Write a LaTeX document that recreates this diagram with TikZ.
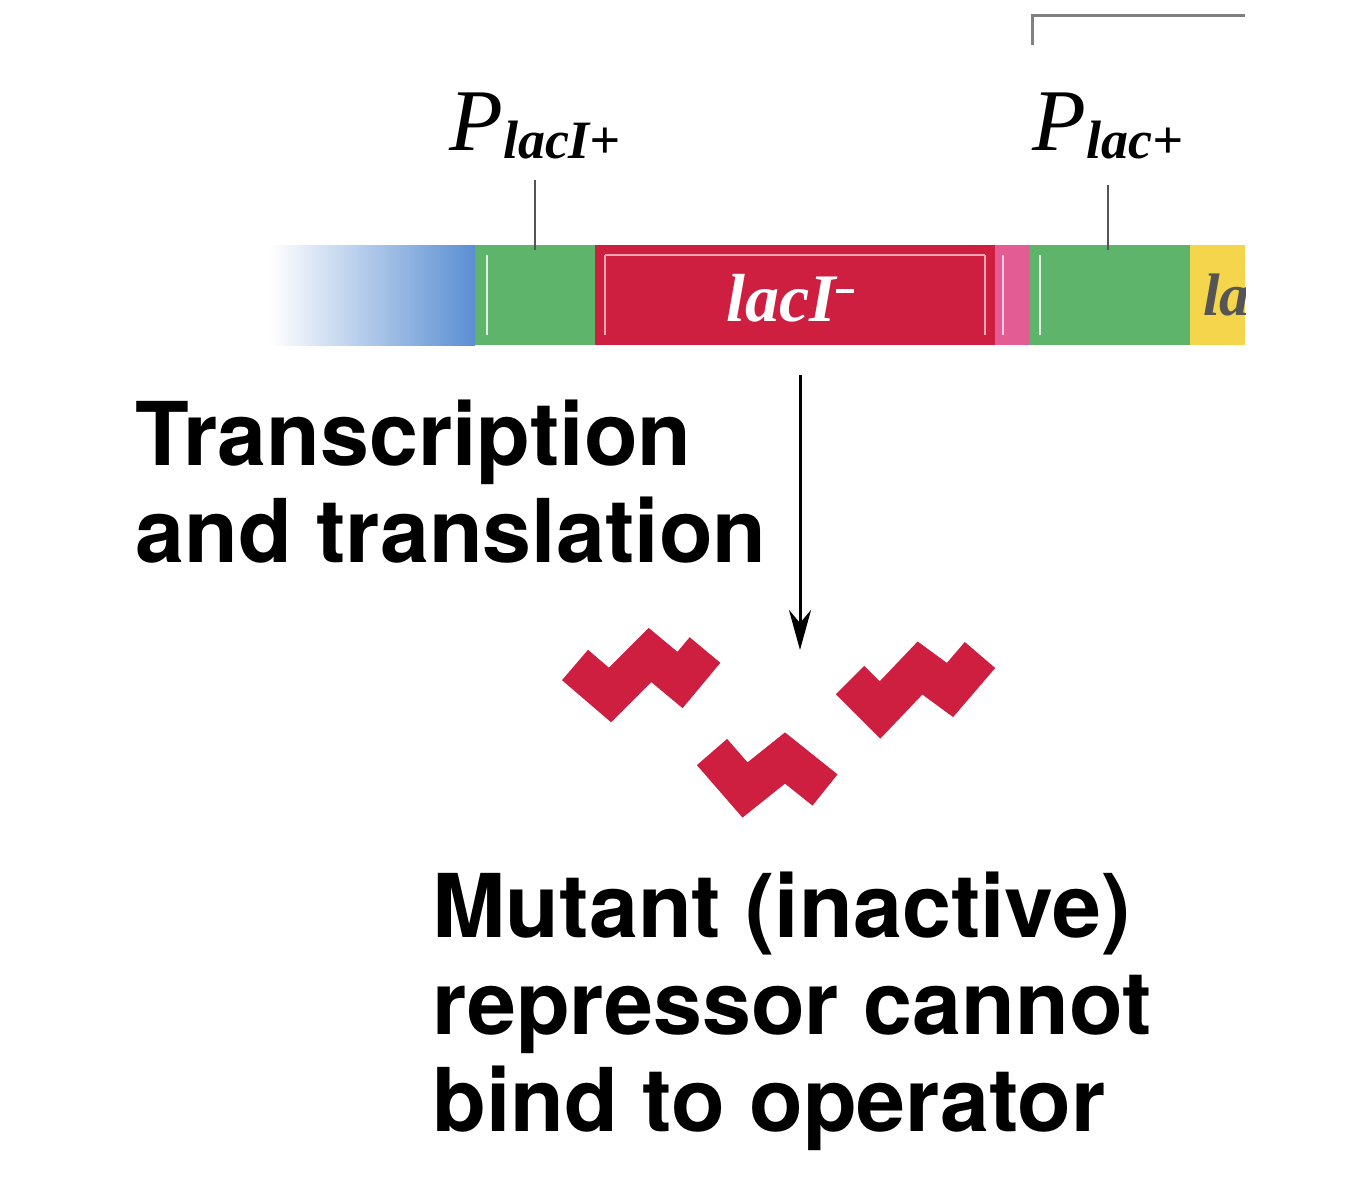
\documentclass[tikz,border=0pt]{standalone}
\usepackage{fontspec}
\usetikzlibrary{arrows.meta}
\setsansfont{TeX Gyre Heros}
\setmainfont{Liberation Serif}
\definecolor{gred}{HTML}{CF1F40}
\definecolor{ggreen}{HTML}{5DB46A}
\definecolor{gpink}{HTML}{E45C94}
\definecolor{gyellow}{HTML}{F4D54C}
\definecolor{gblue}{HTML}{5A8ED2}
\definecolor{ggray}{HTML}{555555}
\begin{document}
\begin{tikzpicture}[x=0.5pt,y=-0.5pt,
  lbl/.style={font=\sffamily\bfseries\fontsize{44}{48.5}\selectfont,align=left,inner sep=0},
  prom/.style={font=\rmfamily\itshape\fontsize{30}{32}\selectfont,inner sep=0},
  tick/.style={draw=ggray,line width=1.2pt},
  prot/.style={draw=gred,line width=20pt,line join=miter,miter limit=3}]
\useasboundingbox (0,0) rectangle (1351,1200);
\fill[white] (0,0) rectangle (1351,1200);
% bracket
\draw[draw=gray,line width=1.5pt] (1032,45) coordinate (bl) -- (1032,15) -- (1245,15) coordinate (br);
% DNA
\shade[left color=white,right color=gblue] (270,245) rectangle (475,345);
\fill[ggreen] (475,245) rectangle (595,345);
\draw[white!80!ggreen,line width=1pt] (487,255) -- (487,335);
\fill[gred] (595,245) rectangle (995,345);
\draw[white!60!gred,line width=1pt] (605,255) -- (605,335) (605,255) -- (985,255) (985,255) -- (985,335);
\fill[gpink] (995,245) rectangle (1030,345);
\draw[white!70!gpink,line width=1pt] (1003,255) -- (1003,335);
\fill[ggreen] (1030,245) rectangle (1190,345);
\draw[white!80!ggreen,line width=1pt] (1040,255) -- (1040,335);
\fill[gyellow] (1190,245) rectangle (1245,345);
\begin{scope}
\clip (1190,245) rectangle (1245,345);
\node[font=\rmfamily\bfseries\itshape\fontsize{30}{32}\selectfont,text=ggray,anchor=west] (la) at (1196,295) {lac};
\end{scope}
\node[font=\rmfamily\bfseries\itshape\fontsize{34}{36}\selectfont,text=white] (laci) at (790,298) {lacI\raisebox{0.9ex}{\rule{9pt}{2pt}}};
% promoters
\node[prom,anchor=base] (p1) at (535,150) {\fontsize{44}{44}\selectfont P\raisebox{-0.2ex}{\fontsize{27}{27}\selectfont\bfseries lacI+}};
\node[prom,anchor=base] (p2) at (1108,150) {\fontsize{44}{44}\selectfont P\raisebox{-0.2ex}{\fontsize{27}{27}\selectfont\bfseries lac+}};
\draw[tick] (535,180) -- (535,250);
\draw[tick] (1108,185) -- (1108,250);
% arrow
\coordinate (a1) at (800,375);
\coordinate (a2) at (800,650);
\draw[line width=1.5pt,-{Stealth[length=20pt,width=11pt]}] (a1) -- (a2);
\node[lbl,anchor=north west] (tt) at (135,400) {Transcription\\and translation};
% proteins
\draw[prot] (575,665) -- (610,695) -- (650,655) -- (680,680) -- (705,650);
\draw[prot] (850,680) -- (880,710) -- (920,668) -- (950,690) -- (980,655);
\draw[prot] (712,752) -- (745,790) -- (785,758) -- (825,790);
\node[lbl,anchor=north west] (mt) at (432,872) {Mutant (inactive)\\repressor cannot\\bind to operator};
\end{tikzpicture}
\end{document}
